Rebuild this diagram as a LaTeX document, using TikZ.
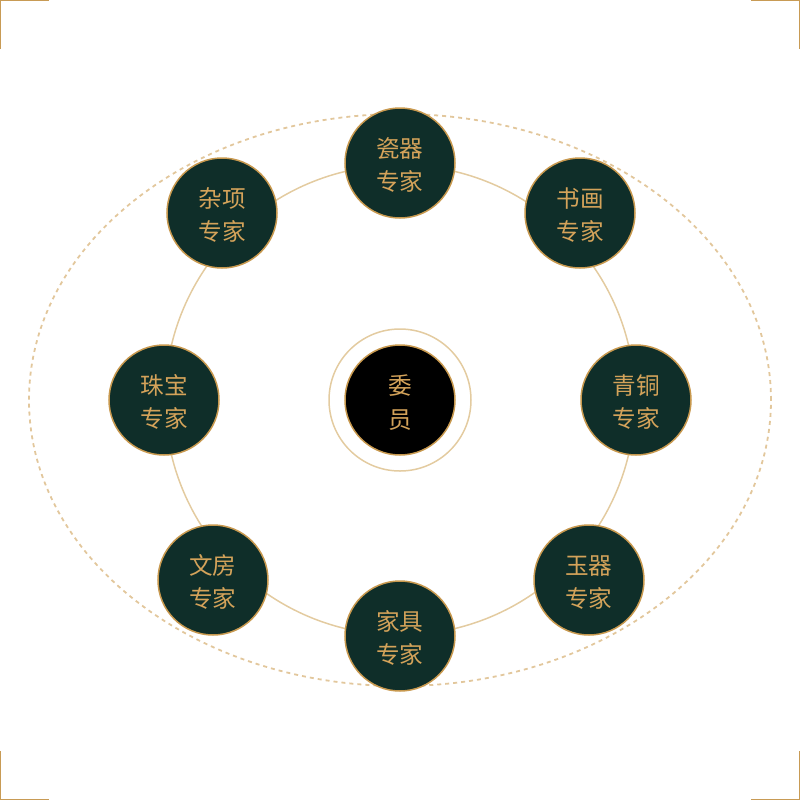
\documentclass[tikz,border=0pt]{standalone}
\usepackage{fontspec}
\newfontfamily\cjk{Noto Sans CJK SC}
\definecolor{darkgreen}{HTML}{0F2E29}
\definecolor{goldline}{HTML}{C8994F}
\definecolor{goldtext}{HTML}{D4A35A}
\definecolor{lightgold}{HTML}{E3CBA0}
\definecolor{dashgold}{HTML}{E2C79C}
\definecolor{cornergold}{HTML}{C89B55}
\begin{document}
\begin{tikzpicture}[x=0.5pt,y=-0.5pt,
  expert/.style={circle,draw=goldline,line width=0.75pt,fill=darkgreen,minimum size=55pt,inner sep=0pt,
    text=goldtext,font=\cjk\fontsize{11.8pt}{16.5pt}\selectfont,align=center,yshift=0pt},
  corebox/.style={circle,draw=goldline,line width=0.75pt,fill=black,minimum size=55pt,inner sep=0pt,
    text=goldtext,font=\cjk\fontsize{11.8pt}{17pt}\selectfont,align=center},
  lbl/.style={text=goldtext,font=\cjk\fontsize{11.8pt}{16.5pt}\selectfont,align=center,inner sep=0pt,yshift=-1.2pt},
  ring/.style={draw=lightgold,line width=0.75pt},
  dashring/.style={draw=dashgold,line width=0.9pt,dash pattern=on 2pt off 2pt},
  bracket/.style={draw=cornergold,line width=0.7pt}]
\useasboundingbox (0,0) rectangle (800,800);
% corner brackets
\coordinate (tl) at (0.6,0.6);
\coordinate (tr) at (799.4,0.6);
\coordinate (bl) at (0.6,799.4);
\coordinate (br) at (799.4,799.4);
\draw[bracket] ([yshift=-24pt]tl) -- (tl) -- ([xshift=24pt]tl);
\draw[bracket] ([yshift=-24pt]tr) -- (tr) -- ([xshift=-24pt]tr);
\draw[bracket] ([yshift=24pt]bl) -- (bl) -- ([xshift=24pt]bl);
\draw[bracket] ([yshift=24pt]br) -- (br) -- ([xshift=-24pt]br);
% rings
\coordinate (c) at (400,400);
\draw[dashring] (c) ellipse [x radius=185.5pt, y radius=143pt];
\draw[ring] (c) circle [radius=117.5pt];
\draw[ring] (c) circle [radius=35.5pt];
% nodes
\node[corebox,label={[lbl,font=\cjk\fontsize{11.8pt}{17pt}\selectfont]center:委\\员}] (core) at (400,400) {};
\node[expert,label={[lbl]center:瓷器\\专家}] (ciqi) at (400,163) {};
\node[expert,label={[lbl]center:书画\\专家}] (shuhua) at (580,213) {};
\node[expert,label={[lbl]center:青铜\\专家}] (qingtong) at (636,400) {};
\node[expert,label={[lbl]center:玉器\\专家}] (yuqi) at (589,580) {};
\node[expert,label={[lbl]center:家具\\专家}] (jiaju) at (400,636) {};
\node[expert,label={[lbl]center:文房\\专家}] (wenfang) at (213,580) {};
\node[expert,label={[lbl]center:珠宝\\专家}] (zhubao) at (164,400) {};
\node[expert,label={[lbl]center:杂项\\专家}] (zaxiang) at (222,213) {};
\end{tikzpicture}
\end{document}
